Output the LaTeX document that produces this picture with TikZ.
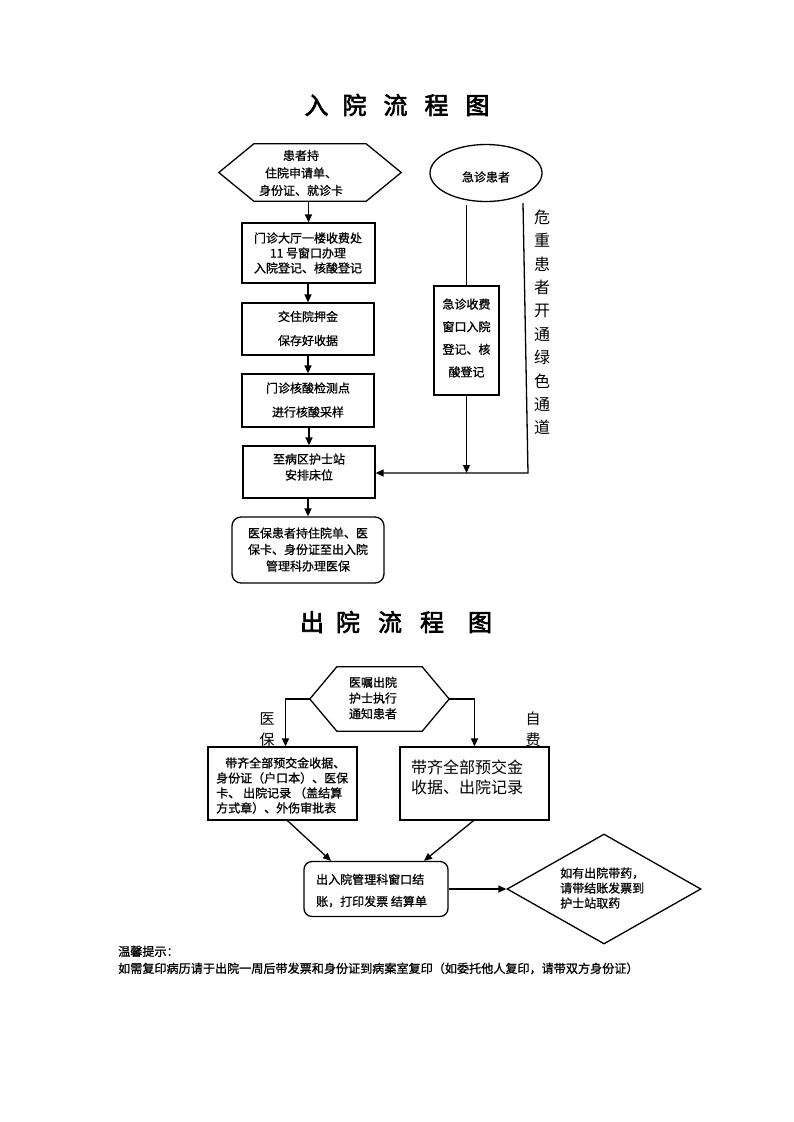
\documentclass[tikz,border=0pt]{standalone}
\usepackage{fontspec}
\setmainfont{Noto Sans CJK SC}
\newfontfamily\titlefont{Noto Sans CJK SC}[FakeBold=2.5]
\newfontfamily\semibold{Noto Sans CJK SC}[FakeBold=0.9]
\usetikzlibrary{arrows.meta,shapes.geometric}
\begin{document}
\begin{tikzpicture}[x=1pt,y=-1pt,
  shp/.style={draw, line width=1.3pt, inner sep=0pt},
  box/.style={shp, rectangle},
  rbox/.style={shp, rectangle, rounded corners=9pt},
  hold/.style={inner sep=0pt},
  conn/.style={line width=1.3pt},
  arr/.style={conn, -{Triangle[length=8pt,width=7pt]}},
  txt/.style={inner sep=0pt, align=center, font=\semibold\fontsize{12}{15}\selectfont},
  ltxt/.style={inner sep=0pt, align=left, anchor=west, font=\semibold\fontsize{12}{15}\selectfont},
  ttl/.style={inner sep=0pt, font=\fontsize{24}{28}\selectfont\titlefont},
  vlab/.style={inner sep=0pt, align=center, font=\fontsize{15}{21}\selectfont}]
\useasboundingbox (0,0) rectangle (793,1122);
\fill[white] (0,0) rectangle (793,1122);

% ---------- titles ----------
\node[ttl] (t1) at (397,105) {入\hspace{14pt}院\hspace{17pt}流\hspace{17pt}程\hspace{17pt}图};
\node[ttl] (t2) at (396,622) {出\hspace{12pt}院\hspace{18pt}流\hspace{18pt}程\hspace{24pt}图};

% ---------- admission ----------
\node[hold, minimum width=182pt, minimum height=57pt] (h1) at (310,172.5) {};
\draw[conn] (h1.west) -- ([xshift=35pt]h1.north west) -- ([xshift=-35pt]h1.north east)
  -- (h1.east) -- ([xshift=-35pt]h1.south east) -- ([xshift=35pt]h1.south west) -- cycle;
\node[txt, font=\semibold\fontsize{12}{17.5}\selectfont] (h1t) at (301,173) {患者持\\住院申请单、\\身份证、就诊卡};

\node[box, minimum width=133pt, minimum height=60pt] (b1) at (308.5,253) {};
\node[txt] (b1t) at (308,253) {门诊大厅一楼收费处\\11 号窗口办理\\入院登记、核酸登记};

\node[box, minimum width=132pt, minimum height=52pt] (b2) at (308,329) {};
\node[txt, font=\semibold\fontsize{12}{24}\selectfont] (b2t) at (308,328.5) {交住院押金\\保存好收据};

\node[box, minimum width=132pt, minimum height=53pt] (b3) at (308,400.5) {};
\node[txt, font=\semibold\fontsize{12}{24}\selectfont] (b3t) at (308,400) {门诊核酸检测点\\进行核酸采样};

\node[box, minimum width=132pt, minimum height=52pt] (b4) at (309,472) {};
\node[txt, font=\semibold\fontsize{12}{16}\selectfont] (b4t) at (309,467) {至病区护士站\\安排床位};

\node[rbox, minimum width=152pt, minimum height=66pt] (b5) at (308,550) {};
\node[txt, font=\semibold\fontsize{12}{16.5}\selectfont] (b5t) at (308,549.5) {医保患者持住院单、医\\保卡、身份证至出入院\\管理科办理医保};

\node[shp, ellipse, minimum width=112pt, minimum height=57pt] (e) at (486,173) {};
\node[txt] (et) at (486,177) {急诊患者};

\node[box, minimum width=65pt, minimum height=109pt] (eb) at (466.5,340.5) {};
\node[txt, font=\semibold\fontsize{12}{22.6}\selectfont] (ebt) at (466.5,338) {急诊收费\\窗口入院\\登记、核\\酸登记};

\node[inner sep=0pt, align=center, font=\fontsize{16}{23.4}\selectfont] (green) at (542,322.5) {危\\重\\患\\者\\开\\通\\绿\\色\\通\\道};

\coordinate (g1) at (523,203);
\coordinate (g2) at (528,473);

\draw[arr] (b1.north |- h1.south) -- (b1.north);
\draw[arr] (b2.north |- b1.south) -- (b2.north);
\draw[arr] (b3.north |- b2.south) -- (b3.north);
\draw[arr] (b4.north |- b3.south) -- (b4.north);
\draw[arr] (b5.north |- b4.south) -- (b5.north);
\draw[conn] ([yshift=-3pt]eb.north |- e.south) -- (eb.north);
\draw[arr] (eb.south) -- (eb.south |- g2);
\draw[arr] (g1) -- (g2) -- (b4.east |- g2);

% ---------- discharge ----------
\node[hold, minimum width=139pt, minimum height=64pt] (h2) at (379.5,699) {};
\draw[conn] (h2.west) -- ([xshift=27pt]h2.north west) -- ([xshift=-27pt]h2.north east)
  -- (h2.east) -- ([xshift=-27pt]h2.south east) -- ([xshift=27pt]h2.south west) -- cycle;
\node[txt, font=\semibold\fontsize{12}{15.7}\selectfont] (h2t) at (373,698) {医嘱出院\\护士执行\\通知患者};

\node[box, minimum width=149pt, minimum height=73pt] (lb) at (282.5,783.5) {};
\node[ltxt] (lbt) at (216,785.5) {\hspace{9pt}带齐全部预交金收据、\\身份证（户口本）、医保\\卡、\hspace{3pt}出院记录\hspace{3pt}（盖结算\\方式章）、外伤审批表};

\node[box, minimum width=149pt, minimum height=73pt] (rb) at (474.5,783.5) {};
\node[inner sep=0pt, align=left, anchor=west, font=\fontsize{16}{20}\selectfont] (rbt) at (411,777) {带齐全部预交金\\收据、出院记录};

\node[vlab] (lyb) at (267,729.5) {医\\保};
\node[vlab] (lzf) at (533,729.5) {自\\费};

\node[rbox, rounded corners=8pt, minimum width=144pt, minimum height=55pt] (rb2) at (376,889) {};
\node[ltxt, font=\semibold\fontsize{12}{22}\selectfont] (rb2t) at (316,890.5) {出入院管理科窗口结\\账，打印发票 结算单};

\node[shp, diamond, minimum width=194pt, minimum height=110pt] (dm) at (604,889) {};
\node[ltxt] (dmt) at (560,888) {如有出院带药，\\请带结账发票到\\护士站取药};

\draw[arr] (h2.west) -| ([xshift=3pt]lb.north);
\draw[arr] (h2.east) -| (rb.north);
\draw[arr] ([xshift=5pt]lb.south) -- ([xshift=-45pt]rb2.north);
\draw[arr] ([xshift=-1pt]rb.south) -- ([xshift=48pt]rb2.north);
\draw[arr] (rb2.east) -- (dm.west);

% ---------- footer ----------
\node[inner sep=0pt, align=left, anchor=west, font=\semibold\fontsize{12.1}{17}\selectfont] (ft) at (118,960)
  {温馨提示：\\如需复印病历请于出院一周后带发票和身份证到病案室复印（如委托他人复印，请带双方身份证）};
\end{tikzpicture}
\end{document}
